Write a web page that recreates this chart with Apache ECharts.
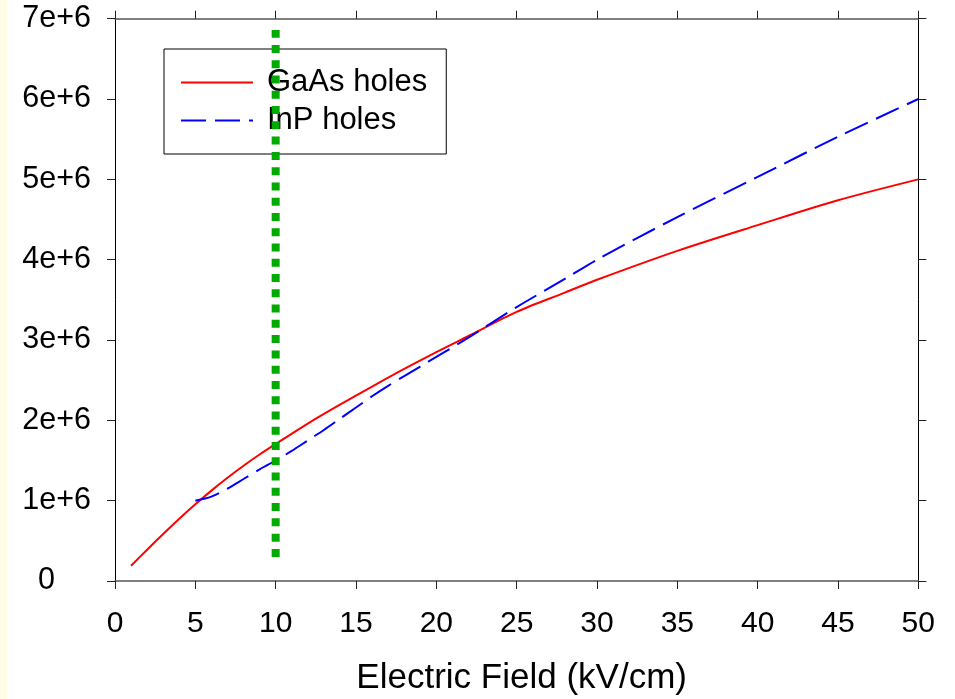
<!DOCTYPE html>
<html>
<head>
<meta charset="utf-8">
<script src="https://cdn.jsdelivr.net/npm/echarts@6/dist/echarts.min.js"></script>
<style>
  html, body { margin: 0; padding: 0; background: #ffffff; }
  #chart { width: 955px; height: 699px; }
</style>
</head>
<body>
<div id="chart"></div>
<script>
// ---- data ----
const gaasX = [1, 2, 3, 4, 5, 6, 7, 8, 9, 10, 12, 14, 16, 18, 20, 22, 25, 28, 30, 35, 40, 45, 50];
const gaasY = [0.19e6, 0.39e6, 0.585e6, 0.775e6, 0.955e6, 1.125e6, 1.285e6, 1.435e6, 1.575e6, 1.705e6, 1.96e6, 2.195e6, 2.42e6, 2.64e6, 2.85e6, 3.05e6, 3.35e6, 3.59e6, 3.75e6, 4.11e6, 4.43e6, 4.74e6, 5.00e6];
const inpX = [5, 6, 7, 8, 9, 10, 11, 12, 13, 14, 15, 16, 17, 18, 19, 20, 22, 25, 28, 30, 35, 40, 45, 50];
const inpY = [1.00e6, 1.05e6, 1.15e6, 1.27e6, 1.39e6, 1.50e6, 1.62e6, 1.75e6, 1.88e6, 2.02e6, 2.16e6, 2.30e6, 2.43e6, 2.55e6, 2.67e6, 2.79e6, 3.03e6, 3.41e6, 3.76e6, 4.00e6, 4.53e6, 5.03e6, 5.53e6, 6.00e6];
const markerX = [10, 10];
const markerY = [0.30e6, 6.86e6];
const seriesNames = ['GaAs holes', 'InP holes'];
const yTickLabels = ['0', '1e+6', '2e+6', '3e+6', '4e+6', '5e+6', '6e+6', '7e+6'];
const xTickLabels = ['0', '5', '10', '15', '20', '25', '30', '35', '40', '45', '50'];
const xTitle = 'Electric Field (kV/cm)';

const FONT = "'Liberation Sans', Arial, sans-serif";
const pairs = (xs, ys) => xs.map((x, i) => [x, ys[i]]);

const chart = echarts.init(document.getElementById('chart'), null, { renderer: 'canvas' });

const hLine = { show: true, onZero: false, lineStyle: { color: '#555', width: 1.5 } };
const vLine = { show: true, onZero: false, lineStyle: { color: '#000', width: 1 } };
const tickStyle = { show: true, inside: false, length: 8, lineStyle: { color: '#222', width: 1 } };

chart.setOption({
  animation: false,
  backgroundColor: '#ffffff',
  graphic: [{
    type: 'rect', left: 0, top: 0, z: -10,
    shape: { width: 7, height: 699 },
    style: { fill: '#FFFDE6' }
  }],
  grid: { left: 115, right: 36.7, top: 18.7, bottom: 118, containLabel: false, outerBoundsMode: 'none' },
  legend: {
    data: seriesNames,
    orient: 'vertical',
    left: 164, top: 49,
    padding: [18, 19, 18, 16],
    itemGap: 7,
    itemWidth: 72, itemHeight: 14,
    borderColor: '#000', borderWidth: 1,
    backgroundColor: 'transparent',
    itemStyle: { opacity: 0 },
    textStyle: { fontFamily: FONT, fontSize: 31, color: '#000', padding: [0, 0, 0, 9] }
  },
  xAxis: [{
    type: 'value', position: 'bottom', min: 0, max: 50, interval: 5,
    axisLine: hLine, axisTick: tickStyle, splitLine: { show: false },
    axisLabel: {
      margin: 28, fontFamily: FONT, fontSize: 30, color: '#000',
      formatter: (v) => xTickLabels[Math.round(v / 5)]
    },
    name: xTitle, nameLocation: 'middle', nameGap: 80,
    nameTextStyle: { fontFamily: FONT, fontSize: 35, color: '#000', padding: [0, 0, 0, 10] }
  }, {
    type: 'value', position: 'top', min: 0, max: 50, interval: 5,
    axisLine: hLine, axisTick: tickStyle, splitLine: { show: false },
    axisLabel: { show: false }
  }],
  yAxis: [{
    type: 'value', position: 'left', min: 0, max: 7e6, interval: 1e6,
    axisLine: vLine, axisTick: tickStyle, splitLine: { show: false },
    axisLabel: {
      margin: 24, fontFamily: FONT, fontSize: 30.5, color: '#000', align: 'right',
      formatter: (v) => {
        const i = Math.round(v / 1e6);
        return i === 0 ? '{z|' + yTickLabels[0] + '}' : yTickLabels[i];
      },
      rich: { z: { fontFamily: FONT, fontSize: 30.5, color: '#000', padding: [0, 36, 0, 0] } }
    }
  }, {
    type: 'value', position: 'right', min: 0, max: 7e6, interval: 1e6,
    axisLine: vLine, axisTick: tickStyle, splitLine: { show: false },
    axisLabel: { show: false }
  }],
  series: [{
    name: seriesNames[0], type: 'line', xAxisIndex: 0, yAxisIndex: 0,
    data: pairs(gaasX, gaasY), smooth: 0.3, showSymbol: false, symbol: 'none',
    lineStyle: { color: '#FF0000', width: 2 }, itemStyle: { color: '#FF0000' }, z: 3
  }, {
    name: seriesNames[1], type: 'line', xAxisIndex: 0, yAxisIndex: 0,
    data: pairs(inpX, inpY), smooth: 0.3, showSymbol: false, symbol: 'none',
    lineStyle: { color: '#0000FF', width: 2, type: [25, 9] }, itemStyle: { color: '#0000FF' }, z: 3
  }, {
    name: 'marker', type: 'line', xAxisIndex: 0, yAxisIndex: 0,
    data: pairs(markerX, markerY), showSymbol: false, symbol: 'none',
    lineStyle: { color: '#00AA00', width: 8, type: [8, 7.27], cap: 'butt' },
    z: 10, silent: true
  }]
});
</script>
</body>
</html>
